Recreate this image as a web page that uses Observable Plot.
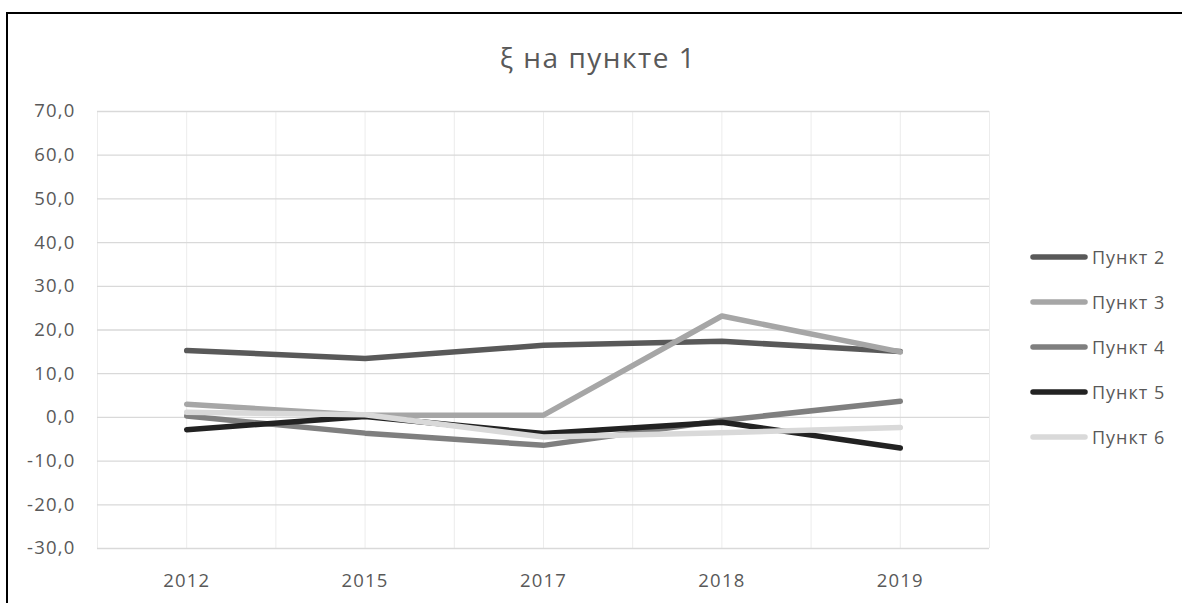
<!DOCTYPE html>
<html>
<head>
<meta charset="utf-8">
<script src="https://cdn.jsdelivr.net/npm/d3@7"></script>
<script src="https://cdn.jsdelivr.net/npm/@observablehq/plot@0.6"></script>
<style>
  html, body { margin: 0; padding: 0; background: #fff; }
  #page { position: relative; width: 1182px; height: 603px; overflow: hidden; font-family: "Open Sans", sans-serif; }
  #frame { position: absolute; left: 6px; top: 12px; width: 1176px; height: 600px; border-top: 2px solid #000; border-left: 2px solid #000; box-sizing: border-box; }
  #title { position: absolute; left: 0; top: 42px; width: 1196px; text-align: center; font-size: 28px; line-height: 30px; letter-spacing: 1.5px; color: #595959; }
  #chart { position: absolute; left: 0; top: 90px; }
  #legend { position: absolute; left: 1030px; top: 234px; }
  .row { display: flex; align-items: center; height: 45px; margin-top: 0; }
  .row span { font-size: 18px; letter-spacing: 1px; color: #595959; margin-left: 4px; line-height: 24px; white-space: nowrap; }
  #chart svg text { letter-spacing: 1.2px; }
</style>
</head>
<body>
<div id="page">
  <div id="frame"></div>
  <div id="title">ξ на пункте 1</div>
  <div id="chart"></div>
  <div id="legend"></div>
</div>
<script>
const years = ["2012", "2015", "2017", "2018", "2019"];
const seriesNames = ["Пункт 2", "Пункт 3", "Пункт 4", "Пункт 5", "Пункт 6"];
const seriesColors = ["#595959", "#a6a6a6", "#7f7f7f", "#222222", "#d9d9d9"];
const punkt2 = [15.3, 13.5, 16.5, 17.4, 15.1];
const punkt3 = [3.0, 0.5, 0.5, 23.2, 15.0];
const punkt4 = [0.3, -3.6, -6.4, -0.7, 3.7];
const punkt5 = [-2.8, 0.2, -3.7, -1.1, -7.0];
const punkt6 = [1.2, 0.6, -4.5, -3.5, -2.3];
const yTicks = [-30, -20, -10, 0, 10, 20, 30, 40, 50, 60, 70];

const allSeries = [punkt2, punkt3, punkt4, punkt5, punkt6];
const data = allSeries.flatMap((vals, si) =>
  vals.map((v, i) => ({ series: seriesNames[si], xi: i, value: v }))
);
const fmt = d => d.toFixed(1).replace(".", ",");
const halfSteps = d3.range(-0.5, years.length - 0.5 + 0.01, 0.5);

const chart = Plot.plot({
  width: 1000,
  height: 513,
  marginLeft: 97,
  marginRight: 11,
  marginTop: 21,
  marginBottom: 55,
  style: { fontFamily: "'Open Sans', sans-serif", fontSize: "18.5px", color: "#595959", background: "transparent" },
  x: { type: "linear", domain: [-0.5, years.length - 0.5] },
  y: { domain: [-30, 70] },
  color: { domain: seriesNames, range: seriesColors },
  marks: [
    Plot.ruleX(halfSteps, { stroke: "#ececec", strokeWidth: 1 }),
    Plot.ruleY(yTicks, { stroke: "#d9d9d9", strokeWidth: 1.3 }),
    Plot.axisY({ ticks: yTicks, tickFormat: fmt, tickSize: 0, tickPadding: 22, fontSize: 18.5, label: null }),
    Plot.axisX({ ticks: d3.range(years.length), tickFormat: i => years[i], tickSize: 0, tickPadding: 25, fontSize: 18.5, label: null }),
    Plot.line(data, {
      x: "xi", y: "value", z: "series", stroke: "series",
      strokeWidth: 5.5, strokeLinecap: "round", strokeLinejoin: "round"
    })
  ]
});
document.getElementById("chart").appendChild(chart);

const legend = d3.select("#legend");
seriesNames.forEach((name, i) => {
  const row = legend.append("div").attr("class", "row");
  const svg = row.append("svg").attr("width", 58).attr("height", 10);
  svg.append("line").attr("x1", 3).attr("x2", 55).attr("y1", 5).attr("y2", 5)
    .attr("stroke", seriesColors[i]).attr("stroke-width", 5.5).attr("stroke-linecap", "round");
  row.append("span").text(name);
});
</script>
</body>
</html>
